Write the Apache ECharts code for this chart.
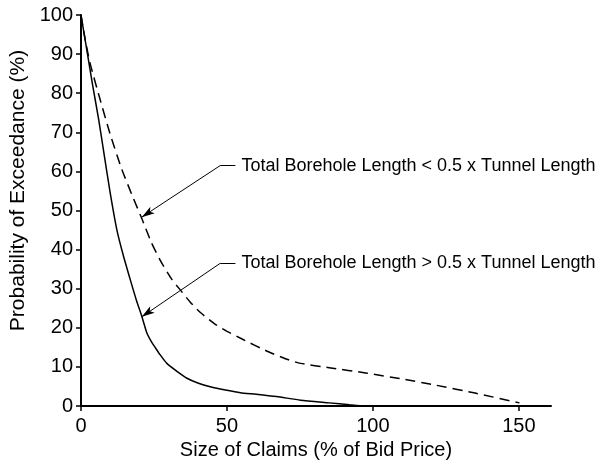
<!DOCTYPE html>
<html><head><meta charset="utf-8">
<script src="https://cdn.jsdelivr.net/npm/echarts@6/dist/echarts.min.js"></script>
<style>html,body{margin:0;padding:0;background:#fff}#c{width:605px;height:461px}</style>
</head><body><div id="c"></div>
<script>
// Solid curve: Total Borehole Length > 0.5 x Tunnel Length
var solidX = [0, 2, 4, 6, 8, 10, 12.3, 14.5, 17, 19, 20.8, 22.5, 24, 25.4, 27, 29.4, 33, 36.3, 40, 44.3, 50, 54.6, 60, 67, 75.2, 85, 92, 97];
var solidY = [100, 91, 82, 73.5, 64, 54.5, 45, 38.5, 32, 27, 23, 18.8, 16.6, 15.0, 13.2, 10.9, 8.8, 7.1, 5.9, 4.9, 4.0, 3.4, 3.0, 2.4, 1.5, 0.8, 0.3, 0];
// Dashed curve: Total Borehole Length < 0.5 x Tunnel Length
var dashX = [0, 1, 3, 6.5, 10, 14, 18, 20.8, 24, 27.1, 31, 34, 37.5, 40.9, 46, 50, 55, 63.8, 70, 75.2, 85, 98, 110, 121, 135, 150.2];
var dashY = [100, 95.5, 88, 78.5, 69.5, 60.5, 53, 48, 42, 37.3, 32.5, 29.7, 26.5, 23.9, 20.9, 19.1, 17.2, 14.0, 12.1, 10.9, 9.8, 8.4, 6.9, 5.4, 3.3, 0.8];
var xTicks = [0, 50, 100, 150];
var yTicks = [0, 10, 20, 30, 40, 50, 60, 70, 80, 90, 100];
var labelLess = 'Total Borehole Length < 0.5 x Tunnel Length';
var labelMore = 'Total Borehole Length > 0.5 x Tunnel Length';
// annotation anchor points (data coords): [elbowX, elbowY, tipX, tipY]
var annLess = [47.7, 61.5, 20.8, 48.3];
var annMore = [47.7, 36.5, 20.8, 22.8];
var hookLen = 5.2;

function pairs(xs, ys){ return xs.map(function(x,i){ return [x, ys[i]]; }); }
function annotation(a, text){
  return [
    [{coord:[a[0],a[1]], symbol:'none'}, {coord:[a[2],a[3]], symbol:'arrow', symbolSize:[6,13]}],
    [{coord:[a[0],a[1]], symbol:'none'}, {coord:[a[0]+hookLen,a[1]], symbol:'none',
      label:{show:true, position:'end', distance:6, formatter:text, color:'#000',
             fontFamily:'Liberation Sans', fontSize:18}}]
  ];
}

var chart = echarts.init(document.getElementById('c'), null, {renderer:'canvas'});
var axisCommon = {
  axisLine:{show:true, onZero:false, lineStyle:{color:'#000', width:2}},
  axisTick:{show:true, inside:false, length:5, lineStyle:{color:'#000', width:1.5}},
  splitLine:{show:false},
  axisLabel:{color:'#000', fontFamily:'Liberation Sans', fontSize:20}
};
chart.setOption({
  animation:false,
  backgroundColor:'#fff',
  grid:{left:81, top:15, right:54, bottom:55, containLabel:false, outerBoundsMode:'none'},
  xAxis:Object.assign({}, axisCommon, {
    type:'value', min:0, max:161, interval:50,
    name:'Size of Claims (% of Bid Price)', nameLocation:'middle', nameGap:34,
    nameTextStyle:{color:'#000', fontFamily:'Liberation Sans', fontSize:20},
    axisLabel:Object.assign({}, axisCommon.axisLabel, {margin:10, showMaxLabel:false,
      formatter:function(v){ return xTicks.indexOf(v) >= 0 ? String(v) : ''; }})
  }),
  yAxis:Object.assign({}, axisCommon, {
    type:'value', min:0, max:100, interval:10,
    name:'Probability of Exceedance (%)', nameLocation:'middle', nameGap:51,
    nameTextStyle:{color:'#000', fontFamily:'Liberation Sans', fontSize:21, padding:[0,0,0,40]},
    axisLabel:Object.assign({}, axisCommon.axisLabel, {margin:8,
      formatter:function(v){ return yTicks.indexOf(v) >= 0 ? String(v) : ''; }})
  }),
  series:[
    {type:'line', name:labelMore, data:pairs(solidX, solidY), showSymbol:false, smooth:0.2,
     lineStyle:{color:'#000', width:1.5}, z:3,
     markLine:{silent:true, animation:false, symbol:['none','none'],
       lineStyle:{color:'#000', width:1, type:'solid'}, label:{show:false},
       data:annotation(annMore, labelMore)}},
    {type:'line', name:labelLess, data:pairs(dashX, dashY), showSymbol:false, smooth:0.2,
     lineStyle:{color:'#000', width:1.5, type:[10,6]}, z:3,
     markLine:{silent:true, animation:false, symbol:['none','none'],
       lineStyle:{color:'#000', width:1, type:'solid'}, label:{show:false},
       data:annotation(annLess, labelLess)}}
  ]
});
</script></body></html>
